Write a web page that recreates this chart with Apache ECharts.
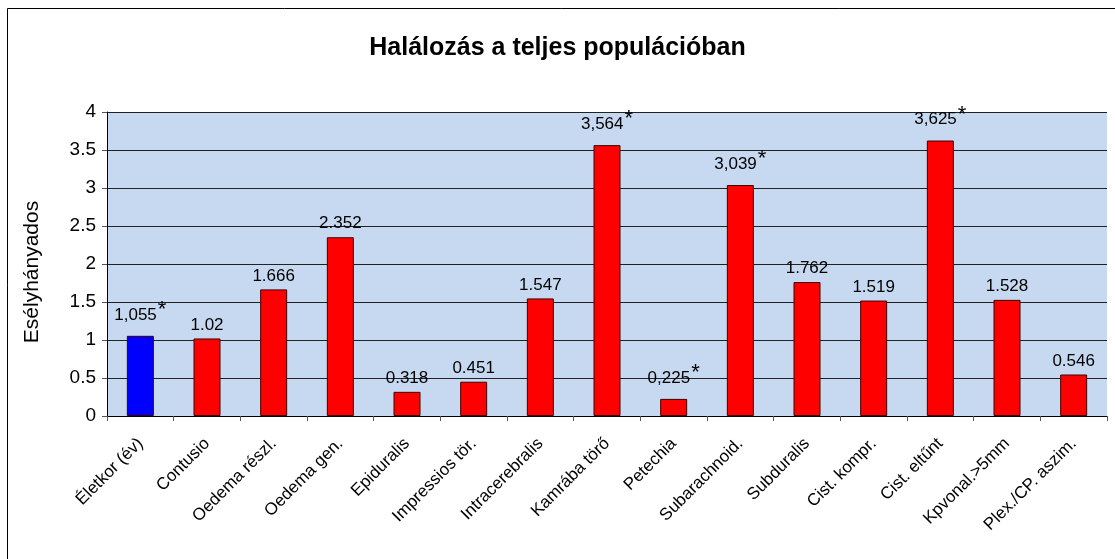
<!DOCTYPE html>
<html>
<head>
<meta charset="utf-8">
<script src="https://cdn.jsdelivr.net/npm/echarts@6/dist/echarts.min.js"></script>
<style>
  html, body { margin: 0; padding: 0; background: #fff; }
  #chart { width: 1115px; height: 559px; }
</style>
</head>
<body>
<div id="chart"></div>
<script>
// data
const categories = [
  'Életkor (év)', 'Contusio', 'Oedema részl.', 'Oedema gen.', 'Epiduralis',
  'Impressios tör.', 'Intracerebralis', 'Kamrába törő', 'Petechia', 'Subarachnoid.',
  'Subduralis', 'Cist. kompr.', 'Cist. eltűnt', 'Kpvonal.>5mm', 'Plex./CP. aszim.'
];
const oddsRatios = [1.055, 1.02, 1.666, 2.352, 0.318, 0.451, 1.547, 3.564, 0.225, 3.039, 1.762, 1.519, 3.625, 1.528, 0.546];
// label text as printed (asterisk = significant)
const valueLabels = ['1,055*', '1.02', '1.666', '2.352', '0.318', '0.451', '1.547', '3,564*', '0,225*', '3,039*', '1.762', '1.519', '3,625*', '1.528', '0.546'];
const barColors = ['#0000ff', '#ff0000', '#ff0000', '#ff0000', '#ff0000', '#ff0000', '#ff0000', '#ff0000', '#ff0000', '#ff0000', '#ff0000', '#ff0000', '#ff0000', '#ff0000', '#ff0000'];

const chart = echarts.init(document.getElementById('chart'));
const font = '"Liberation Sans", Arial, sans-serif';

let option = {
  backgroundColor: '#fff',
  textStyle: { fontFamily: font },
  title: {
    text: 'Halálozás a teljes populációban',
    left: 'center',
    top: 31,
    textStyle: { fontSize: 25, fontWeight: 'bold', color: '#000', fontFamily: font }
  },
  graphic: [{
    type: 'rect',
    shape: { x: 7.5, y: 8.5, width: 1120, height: 560 },
    style: { fill: null, stroke: '#000', lineWidth: 1 },
    silent: true
  }],
  grid: {
    left: 107,
    right: 8,
    top: 112,
    bottom: 143,
    show: true,
    backgroundColor: '#c6d9f0',
    borderWidth: 0
  },
  xAxis: {
    type: 'category',
    data: categories,
    axisLine: { lineStyle: { color: '#000', width: 1 } },
    axisTick: { show: true, length: 5, lineStyle: { color: '#555' } },
    axisLabel: {
      rotate: 45,
      interval: 0,
      color: '#000',
      fontSize: 17,
      margin: 25,
      fontFamily: font
    }
  },
  yAxis: {
    type: 'value',
    min: 0,
    max: 4,
    interval: 0.5,
    name: 'Esélyhányados',
    nameLocation: 'middle',
    nameGap: 64,
    nameRotate: 90,
    nameTextStyle: { fontSize: 21, color: '#000', fontFamily: font, padding: [0, 16, 0, 0] },
    axisLine: { show: true, lineStyle: { color: '#000' } },
    axisTick: { show: true, length: 5, lineStyle: { color: '#555' } },
    axisLabel: { color: '#000', fontSize: 19, margin: 11, fontFamily: font },
    splitLine: { show: true, lineStyle: { color: '#222', width: 1 } }
  },
  series: [{
    type: 'bar',
    barWidth: 27,
    data: oddsRatios.map((v, i) => ({
      value: v,
      itemStyle: { color: barColors[i], borderColor: '#400000', borderWidth: 1 }
    })),
    label: {
      show: true,
      position: 'top',
      distance: 5,
      color: '#000',
      fontSize: 17,
      fontFamily: font,
      formatter: p => {
        const t = valueLabels[p.dataIndex];
        return t.endsWith('*') ? t.slice(0, -1) + '{star|*}' : t;
      },
      rich: {
        star: { fontSize: 22, color: '#000', verticalAlign: 'top', padding: [0, 0, 10, 1], fontFamily: font }
      }
    }
  }]
};

option && chart.setOption(option);
</script>
</body>
</html>
